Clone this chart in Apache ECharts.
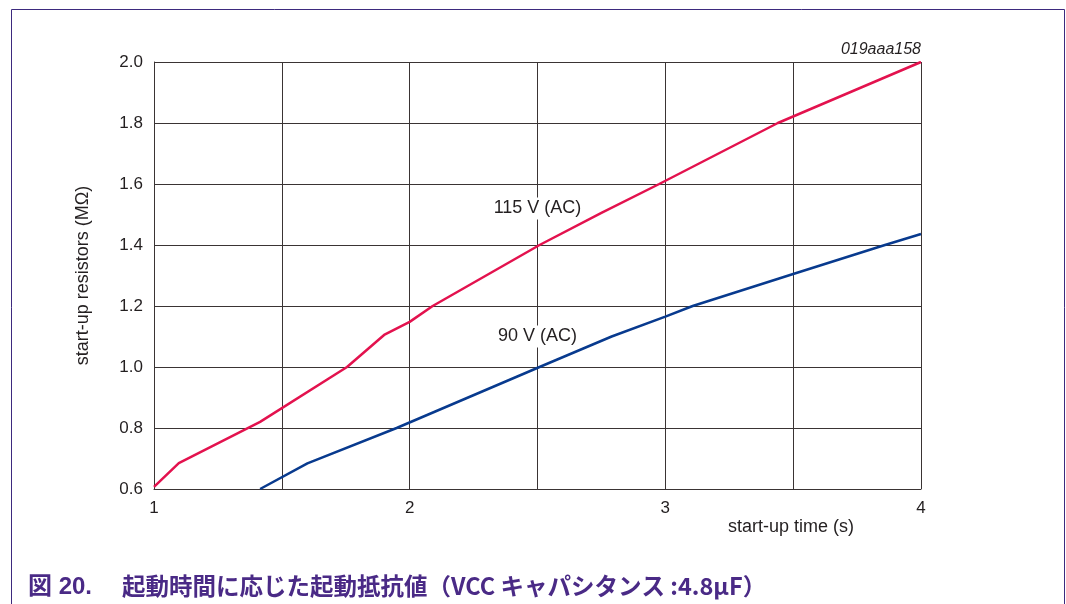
<!DOCTYPE html>
<html>
<head>
<meta charset="utf-8">
<script src="https://cdn.jsdelivr.net/npm/echarts@6/dist/echarts.min.js"></script>
<style>
  html, body { margin: 0; padding: 0; background: #fff; }
  #chart { width: 1066px; height: 604px; }
</style>
</head>
<body>
<div id="chart"></div>
<script>
// start-up time (s) vs start-up resistor (MOhm)
const ac115 = [
  [1.0, 0.607], [1.097, 0.685], [1.415, 0.82], [1.755, 1.0], [1.9, 1.105],
  [2.0, 1.148], [2.09, 1.2], [2.508, 1.4], [2.75, 1.505], [2.976, 1.6],
  [3.44, 1.8], [4.0, 2.0]
]
const ac90 = [
  [1.415, 0.6], [1.6, 0.684], [1.949, 0.8], [2.508, 1.0], [2.79, 1.1],
  [3.0, 1.165], [3.107, 1.2], [3.5, 1.305], [3.859, 1.4], [4.0, 1.436]
]
const curveLabels = [
  { name: '115 V (AC)', coord: [2.5, 1.52] },
  { name: '90 V (AC)', coord: [2.5, 1.1] }
]
const xTicks = [1, 2, 3, 4]
const captionNo = '図 20.'
const captionText = '起動時間に応じた起動抵抗値（VCC キャパシタンス :4.8μF）'

const chart = echarts.init(document.getElementById('chart'))
const ink = '#231f20'
const font = '"Liberation Sans", Arial, sans-serif'

const option = {
  animation: false,
  grid: { left: 154, right: 145, top: 62, bottom: 115 },
  xAxis: {
    type: 'value',
    min: 1,
    max: 4,
    interval: 0.5,
    axisLine: { show: true, onZero: false, lineStyle: { color: '#3a3434', width: 1 } },
    axisTick: { show: false },
    axisLabel: {
      color: ink,
      fontSize: 17,
      fontFamily: font,
      margin: 11,
      formatter: (v) => (xTicks.includes(v) ? String(v) : '')
    },
    splitLine: { show: true, lineStyle: { color: '#3a3434', width: 1 } }
  },
  yAxis: {
    type: 'value',
    min: 0.6,
    max: 2.0,
    interval: 0.2,
    name: 'start-up resistors (MΩ)',
    nameLocation: 'middle',
    nameGap: 62,
    nameTextStyle: { color: ink, fontSize: 18, fontFamily: font },
    axisLine: { show: true, lineStyle: { color: '#3a3434', width: 1 } },
    axisTick: { show: false },
    axisLabel: {
      color: ink,
      fontSize: 17,
      fontFamily: font,
      margin: 11,
      formatter: (v) => v.toFixed(1)
    },
    splitLine: { show: true, lineStyle: { color: '#3a3434', width: 1 } }
  },
  series: [
    {
      name: '115 V (AC)',
      type: 'line',
      data: ac115,
      showSymbol: false,
      lineStyle: { color: '#e3124e', width: 2.5 },
      z: 3
    },
    {
      name: '90 V (AC)',
      type: 'line',
      data: ac90,
      showSymbol: false,
      lineStyle: { color: '#083a8e', width: 2.5 },
      z: 3,
      markPoint: {
        symbol: 'rect',
        symbolSize: 0,
        silent: true,
        label: {
          show: true,
          position: 'inside',
          formatter: '{b}',
          color: ink,
          fontSize: 18,
          fontFamily: font,
          backgroundColor: '#fff',
          padding: [2, 3]
        },
        data: curveLabels
      }
    }
  ],
  graphic: [
    {
      type: 'rect',
      shape: { x: 11.5, y: 9.5, width: 1053, height: 640 },
      style: { fill: 'none', stroke: '#3d2a7e', lineWidth: 1 },
      silent: true
    },
    {
      type: 'text',
      right: 145,
      top: 42,
      style: { text: '019aaa158', fill: ink, font: 'italic 16px ' + font }
    },
    {
      type: 'text',
      left: 728,
      top: 518,
      style: { text: 'start-up time (s)', fill: ink, font: '18px ' + font }
    },
    {
      type: 'text',
      left: 28,
      top: 575,
      style: { text: captionNo, fill: '#4a2a86', font: 'bold 24px "Liberation Sans", "Noto Sans CJK JP", sans-serif' }
    },
    {
      type: 'text',
      left: 122,
      top: 574,
      style: { text: captionText, fill: '#4a2a86', font: 'bold 23.5px "Noto Sans CJK JP", sans-serif' }
    }
  ]
}

chart.setOption(option)
window.addEventListener('resize', () => chart.resize())
</script>
</body>
</html>
